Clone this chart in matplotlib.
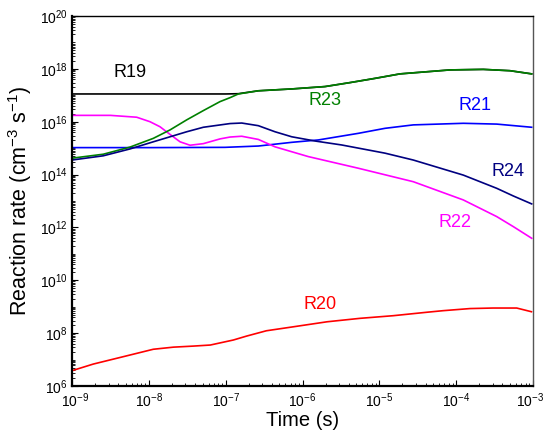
import matplotlib
matplotlib.use("Agg")
import matplotlib.pyplot as plt
import matplotlib.transforms as mtransforms
import numpy as np

plt.rcParams['font.family'] = ['Liberation Sans', 'DejaVu Sans']
plt.rcParams['mathtext.fontset'] = 'custom'
plt.rcParams['mathtext.rm'] = 'Liberation Sans'
plt.rcParams['mathtext.it'] = 'Liberation Sans'

# log10 of time (s) and log10 of rate (cm^-3 s^-1)
t_r19 = [-9, -8, -7.5, -7.0, -6.835, -6.575, -6.14, -5.707, -5.382, -5.056, -4.731,
         -4.08, -3.647, -3.299, -3.017]
r_r19 = [17.05, 17.05, 17.05, 17.05, 17.06, 17.17, 17.24, 17.33, 17.48, 17.64, 17.81,
         17.96, 17.98, 17.93, 17.81]

t_r20 = [-9, -8.723, -8.29, -7.942, -7.68, -7.421, -7.20, -6.90, -6.726, -6.47, -6.12,
         -5.68, -5.252, -4.82, -4.383, -4.17, -3.82, -3.52, -3.212, -3.02]
r_r20 = [6.58, 6.83, 7.14, 7.39, 7.47, 7.51, 7.55, 7.74, 7.89, 8.09, 8.24,
         8.43, 8.56, 8.66, 8.79, 8.85, 8.93, 8.95, 8.95, 8.81]

t_r21 = [-9, -7.985, -7.009, -6.575, -6.14, -5.794, -5.274, -4.926, -4.558, -3.907,
         -3.472, -3.017]
r_r21 = [15.02, 15.02, 15.03, 15.08, 15.22, 15.31, 15.56, 15.75, 15.88, 15.94,
         15.91, 15.79]

t_r22 = [-9, -8.5, -8.158, -7.985, -7.855, -7.724, -7.594, -7.464, -7.291, -7.073,
         -6.943, -6.791, -6.575, -6.358, -5.924, -5.274, -4.558, -3.907, -3.472,
         -3.256, -3.017]
r_r22 = [16.24, 16.24, 16.17, 16.00, 15.81, 15.52, 15.24, 15.11, 15.17, 15.35,
         15.42, 15.45, 15.33, 15.05, 14.68, 14.24, 13.73, 13.04, 12.41,
         12.03, 11.59]

t_r23 = [-9, -8.593, -8.245, -7.942, -7.724, -7.507, -7.291, -7.074, -6.943, -6.835,
         -6.575, -6.14, -5.707, -5.382, -5.056, -4.731, -4.08, -3.647, -3.299, -3.017]
r_r23 = [14.62, 14.77, 15.04, 15.37, 15.69, 16.07, 16.42, 16.76, 16.91, 17.05,
         17.17, 17.24, 17.33, 17.48, 17.64, 17.81, 17.96, 17.98, 17.93, 17.81]

t_r24 = [-9, -8.593, -8.245, -7.942, -7.724, -7.507, -7.291, -6.943, -6.791, -6.575,
         -6.358, -6.14, -5.837, -5.49, -4.926, -4.558, -3.907, -3.472, -3.256, -3.017]
r_r24 = [14.55, 14.71, 14.97, 15.24, 15.43, 15.62, 15.79, 15.93, 15.95, 15.85,
         15.62, 15.43, 15.27, 15.12, 14.81, 14.55, 13.98, 13.48, 13.19, 12.89]

series = [
    ("R19", t_r19, r_r19, "black", (-8.25, 17.88)),
    ("R20", t_r20, r_r20, "red", (-5.77, 9.07)),
    ("R21", t_r21, r_r21, "blue", (-3.75, 16.6)),
    ("R22", t_r22, r_r22, "magenta", (-4.01, 12.2)),
    ("R23", t_r23, r_r23, "green", (-5.71, 16.8)),
    ("R24", t_r24, r_r24, "navy", (-3.33, 14.1)),
]

fig = plt.figure(figsize=(5.44, 4.30), dpi=100)
ax = fig.add_axes([72 / 544, 1 - 386 / 430, 461 / 544, 370 / 430])

for name, t, r, c, pos in series:
    ax.plot(10.0 ** np.array(t), 10.0 ** np.array(r), color=c, lw=1.2,
            solid_joinstyle='round')
    ax.text(10.0 ** pos[0], 10.0 ** pos[1], name, color=c, fontsize=13,
            ha='center', va='center')

ax.set_xscale('log')
ax.set_yscale('log')
ax.set_xlim(1e-9, 1e-3)
ax.set_ylim(1e6, 1e20)
ax.set_xticks([10.0 ** k for k in range(-9, -2)])
ax.set_xticklabels([r'$10^{%d}$' % k for k in range(-9, -2)])
ax.set_yticks([10.0 ** k for k in range(6, 21, 2)])
ax.set_yticklabels([r'$10^{%d}$' % k for k in range(6, 21, 2)])
ax.tick_params(which='both', direction='in', labelsize=10)
ax.tick_params(axis='x', pad=4)
ax.tick_params(axis='y', pad=3)
ax.tick_params(which='major', length=4)
ax.tick_params(which='minor', length=2)
ax.yaxis.set_minor_locator(matplotlib.ticker.LogLocator(base=10, subs=np.arange(1, 10), numticks=50))
ax.yaxis.set_minor_formatter(matplotlib.ticker.NullFormatter())

# nudge the corner labels so they stay inside the picture and apart
xl = ax.get_xticklabels()
xl[-1].set_transform(xl[-1].get_transform() + mtransforms.ScaledTranslation(-3 / 100, 0, fig.dpi_scale_trans))
xl[0].set_transform(xl[0].get_transform() + mtransforms.ScaledTranslation(3 / 100, 0, fig.dpi_scale_trans))

ax.spines['left'].set_linewidth(1.6)
ax.spines['bottom'].set_linewidth(1.6)
ax.spines['top'].set_linewidth(1.0)
ax.spines['right'].set_linewidth(1.0)
ax.spines['right'].set_color('#555555')

ax.set_xlabel('Time (s)', fontsize=14.5)
ax.xaxis.set_label_coords(0.5, -0.068)
ax.set_ylabel(r'Reaction rate (cm$^{-3}$ s$^{-1}$)', fontsize=15.5)
ax.yaxis.set_label_coords(-0.082, 0.5)

fig.savefig('out.png', dpi=100)
